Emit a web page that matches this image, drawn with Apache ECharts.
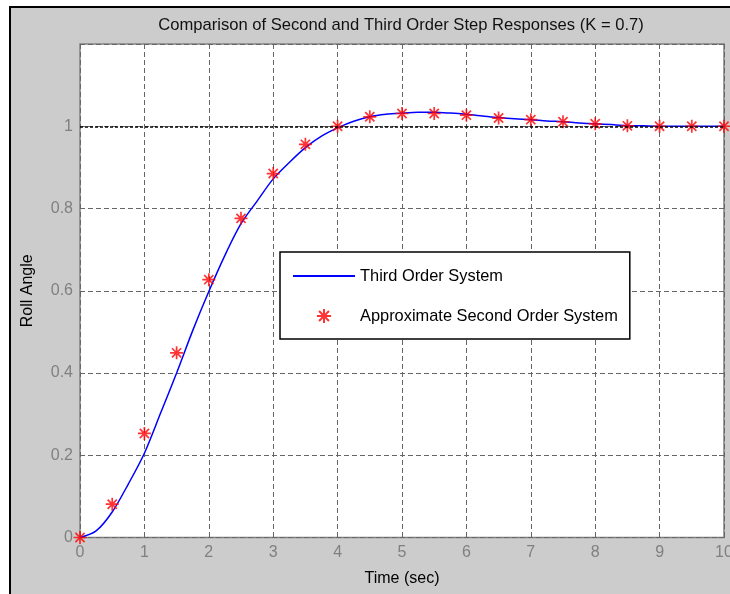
<!DOCTYPE html>
<html>
<head>
<meta charset="utf-8">
<script src="https://cdn.jsdelivr.net/npm/echarts@6/dist/echarts.min.js"></script>
<style>
html,body{margin:0;padding:0;background:#fff;}
#chart{width:730px;height:594px;}
</style>
</head>
<body>
<div id="chart"></div>
<script>
// ---- data ----
const titleText = 'Comparison of Second and Third Order Step Responses (K = 0.7)';
const xAxisTitle = 'Time (sec)';
const yAxisTitle = 'Roll Angle';
const lineName = 'Third Order System';
const starName = 'Approximate Second Order System';

const xTickLabels = ['0','1','2','3','4','5','6','7','8','9','10'];
const yTickLabels = ['0','0.2','0.4','0.6','0.8','1'];
const finalValue = 1;

const thirdOrderTime = [0,0.25,0.5,0.75,1,1.25,1.5,1.75,2,2.25,2.5,2.75,3,3.25,3.5,3.75,4,4.25,4.5,4.75,5,5.25,5.5,5.75,6,6.25,6.5,6.75,7,7.25,7.5,7.75,8,8.25,8.5,8.75,9,9.25,9.5,9.75,10];
const thirdOrderValue = [0,0.016,0.062,0.130,0.205,0.302,0.400,0.503,0.598,0.686,0.763,0.818,0.872,0.912,0.948,0.976,0.996,1.012,1.023,1.029,1.032,1.034,1.034,1.032,1.029,1.025,1.021,1.018,1.016,1.013,1.011,1.008,1.006,1.004,1.002,1.001,1.000,1.000,1.000,1.000,1.000];

const secondOrderTime = [0,0.5,1,1.5,2,2.5,3,3.5,4,4.5,5,5.5,6,6.5,7,7.5,8,8.5,9,9.5,10];
const secondOrderValue = [0,0.081,0.253,0.449,0.627,0.776,0.885,0.956,1.000,1.023,1.031,1.031,1.027,1.020,1.016,1.011,1.006,1.001,1.000,1.000,1.000];

// ---- chart ----
const FONT = 'Liberation Sans, Arial, sans-serif';
const starPath = 'path://M6,0L6,12M0,6L12,6M1.76,1.76L10.24,10.24M1.76,10.24L10.24,1.76';

const lineData = thirdOrderTime.map((t, i) => [t, thirdOrderValue[i]]);
const starData = secondOrderTime.map((t, i) => [t, secondOrderValue[i]]);

const chart = echarts.init(document.getElementById('chart'), null, {renderer: 'canvas'});

const yLabelFmt = v => {
  const idx = Math.round(v / 0.2);
  return idx < yTickLabels.length ? yTickLabels[idx] : '';
};
const xLabelFmt = v => {
  const idx = Math.round(v);
  return xTickLabels[idx] !== undefined ? xTickLabels[idx] : '';
};

const gridLine = {show: true, lineStyle: {color: '#666666', width: 1, type: [5, 3]}};
const tickStyle = {show: true, inside: true, length: 5, lineStyle: {color: '#666666', width: 1}};
const hiddenLine = {show: false, onZero: false};

chart.setOption({
  animation: false,
  backgroundColor: '#ffffff',
  graphic: [{
    type: 'rect', z: -100, silent: true,
    shape: {x: 10, y: 7, width: 800, height: 700},
    style: {fill: '#cccccc', stroke: '#000000', lineWidth: 2}
  }],
  title: {
    text: titleText,
    left: 401, top: 17, padding: 0,
    textAlign: 'center',
    textStyle: {fontFamily: FONT, fontSize: 16.6, fontWeight: 'normal', color: '#111'}
  },
  grid: {
    left: 80, top: 44, right: 6, bottom: 56.5,
    outerBoundsMode: 'none',
    containLabel: false,
    show: true, backgroundColor: '#ffffff',
    borderColor: '#808080', borderWidth: 1.5
  },
  legend: {
    orient: 'vertical',
    left: 280, top: 252,
    padding: [16, 12, 15, 12],
    itemGap: 24,
    itemWidth: 62, itemHeight: 14,
    backgroundColor: '#ffffff',
    borderColor: '#000000', borderWidth: 1.5,
    textStyle: {fontFamily: FONT, fontSize: 16.4, color: '#000'},
    data: [{name: lineName, itemStyle: {opacity: 0}}, starName]
  },
  xAxis: [{
    type: 'value', min: 0, max: 10, interval: 1,
    axisLine: hiddenLine,
    axisTick: tickStyle,
    axisLabel: {color: '#808080', fontFamily: FONT, fontSize: 16, margin: 7, formatter: xLabelFmt},
    splitLine: gridLine,
    name: xAxisTitle, nameLocation: 'middle', nameGap: 33,
    nameTextStyle: {color: '#000', fontFamily: FONT, fontSize: 16}
  }, {
    type: 'value', position: 'top', min: 0, max: 10, interval: 1,
    axisLine: hiddenLine, axisTick: tickStyle,
    axisLabel: {show: false}, splitLine: {show: false}
  }],
  yAxis: [{
    type: 'value', min: 0, max: 1.2, interval: 0.2,
    axisLine: hiddenLine,
    axisTick: tickStyle,
    axisLabel: {color: '#808080', fontFamily: FONT, fontSize: 16, margin: 7, formatter: yLabelFmt},
    splitLine: gridLine,
    name: yAxisTitle, nameLocation: 'middle', nameGap: 44, nameRotate: 90,
    nameTextStyle: {color: '#000', fontFamily: FONT, fontSize: 16}
  }, {
    type: 'value', position: 'right', min: 0, max: 1.2, interval: 0.2,
    axisLine: hiddenLine, axisTick: tickStyle,
    axisLabel: {show: false}, splitLine: {show: false}
  }],
  series: [{
    type: 'line', name: lineName,
    data: lineData,
    symbol: 'none', showSymbol: false, smooth: 0.3,
    lineStyle: {color: '#0000ff', width: 1.5},
    itemStyle: {color: '#0000ff'},
    markLine: {
      silent: true, symbol: 'none',
      label: {show: false},
      lineStyle: {color: '#000', type: [3, 2], width: 1.5},
      data: [{yAxis: finalValue}]
    },
    z: 2
  }, {
    type: 'scatter', name: starName,
    data: starData,
    symbol: starPath, symbolSize: 13,
    itemStyle: {color: '#ff0000', borderColor: '#ff0000', borderWidth: 1.7},
    z: 3
  }]
});
</script>
</body>
</html>
